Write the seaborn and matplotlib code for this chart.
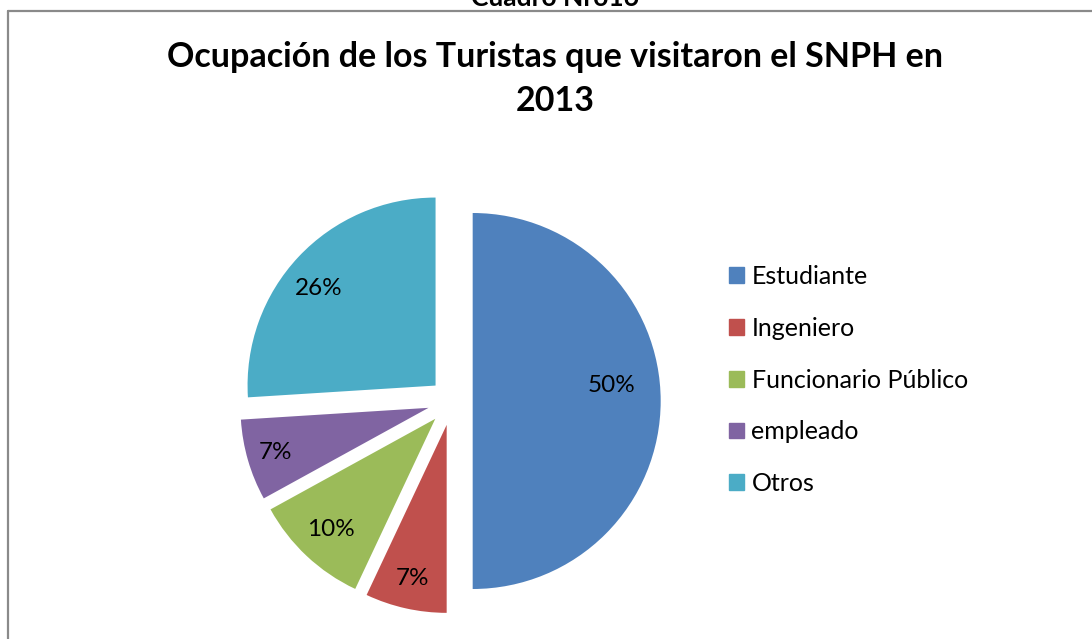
import numpy as np
import matplotlib.pyplot as plt
import matplotlib.patches as mpatches
from matplotlib.lines import Line2D
import seaborn as sns

categories = ["Estudiante", "Ingeniero", "Funcionario Público", "empleado", "Otros"]
percentages = [50, 7, 10, 7, 26]
colors = ["#4F81BD", "#C0504D", "#9BBB59", "#8064A2", "#4BACC6"]

sns.set_theme(style="white")
plt.rcParams["font.family"] = ["Lato", "DejaVu Sans"]
plt.rcParams["text.color"] = "black"

W, H = 1092, 639
fig = plt.figure(figsize=(W / 100, H / 100), dpi=100)

# chart border (cut off at right and bottom)
fig.add_artist(Line2D([8 / W, 8 / W], [0, 1 - 11 / H], color="#8a8a8a", lw=1.6))
fig.add_artist(Line2D([8 / W, 1], [1 - 11 / H, 1 - 11 / H], color="#8a8a8a", lw=1.6))

fig.text(555 / W, 1 - 6 / H, "Cuadro Nro16", ha="center", va="baseline",
         fontsize=19, fontweight="bold")

fig.text(555 / W, 1 - 57 / H, "Ocupación de los Turistas que visitaron el SNPH en",
         ha="center", va="center", fontsize=24.5, fontweight="bold")
fig.text(555 / W, 1 - 101 / H, "2013", ha="center", va="center",
         fontsize=24.5, fontweight="bold")

# pie axes: 1 data unit = r px
r = 188
cx, cy = 452, 401
xl, yl = 1.35, 1.3
ax = fig.add_axes([(cx - xl * r) / W, (H - cy - yl * r) / H, 2 * xl * r / W, 2 * yl * r / H])
wedges, texts, autotexts = ax.pie(
    percentages, colors=sns.color_palette(colors), startangle=90, counterclock=False,
    explode=[0.11, 0.13, 0.13, 0.13, 0.12], autopct="%1.0f%%", pctdistance=0.8,
    wedgeprops={"linewidth": 0}, textprops={"fontsize": 17.5, "color": "black"})

# label distance per slice, like the best-fit placement of the original
label_dist = [0.74, 0.84, 0.81, 0.85, 0.81]
for w, t, d in zip(wedges, autotexts, label_dist):
    mid = np.deg2rad((w.theta1 + w.theta2) / 2)
    x0, y0 = w.center
    t.set_position((x0 + d * np.cos(mid), y0 + d * np.sin(mid)))
x, y = autotexts[0].get_position()
autotexts[0].set_position((x, y + 0.08))
x, y = autotexts[4].get_position()
autotexts[4].set_position((x - 0.03, y - 0.04))

ax.set_xlim(-xl, xl)
ax.set_ylim(-yl, yl)
ax.set_aspect("auto")
ax.axis("off")

handles = [mpatches.Patch(color=c, label=l) for c, l in zip(colors, categories)]
fig.legend(handles=handles, loc="center left", bbox_to_anchor=(729 / W, 1 - 380 / H),
           frameon=False, fontsize=18, handlelength=0.6, handleheight=0.6,
           handletextpad=0.3, labelspacing=1.15, borderaxespad=0, borderpad=0)

fig.savefig("out.png", dpi=100, facecolor="white")
